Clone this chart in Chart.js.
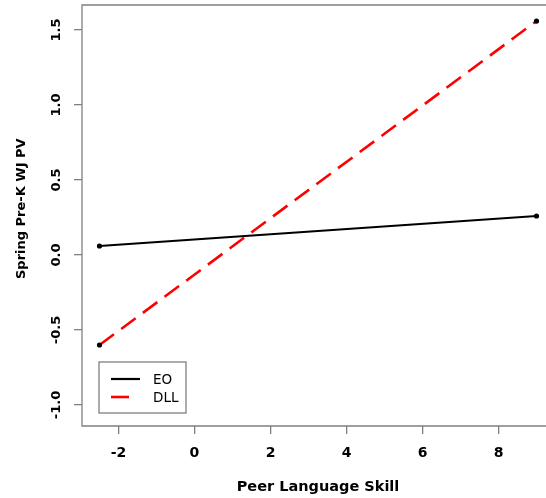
<!DOCTYPE html>
<html>
<head>
<meta charset="utf-8">
<script src="https://cdn.jsdelivr.net/npm/chart.js@4.4.0/dist/chart.umd.min.js"></script>
<style>
  html, body { margin: 0; padding: 0; overflow: hidden; background: #fff; }
  #wrap { width: 560px; height: 498px; }
</style>
</head>
<body>
<div id="wrap"><canvas id="chart" width="560" height="498"></canvas></div>
<script>
// values
const peerSkill = [-2.5, 9];
const eoValues = [0.06, 0.26];
const dllValues = [-0.6, 1.56];
const seriesNames = ['EO', 'DLL'];
const xTicks = [-2, 0, 2, 4, 6, 8];
const yTicks = [-1.0, -0.5, 0.0, 0.5, 1.0, 1.5];

function toPoints(ys) {
    return peerSkill.map(function(x, i) { return { x: x, y: ys[i] }; });
}

// box around the plot region (the right side falls outside the window)
const boxPlugin = {
    id: 'box',
    afterDraw: function(chart) {
        const a = chart.chartArea;
        const ctx = chart.ctx;
        ctx.save();
        ctx.strokeStyle = '#808080';
        ctx.lineWidth = 1.3;
        ctx.beginPath();
        ctx.moveTo(a.right, a.top);
        ctx.lineTo(a.left, a.top);
        ctx.lineTo(a.left, a.bottom);
        ctx.lineTo(a.right, a.bottom);
        ctx.stroke();
        ctx.restore();
    }
};

// legend box in the lower left corner
const legendPlugin = {
    id: 'rLegend',
    afterDraw: function(chart) {
        const ctx = chart.ctx;
        const a = chart.chartArea;
        const x0 = a.left + 17, y0 = a.bottom - 64;
        ctx.save();
        ctx.fillStyle = '#fff';
        ctx.fillRect(x0, y0, 87, 51);
        ctx.strokeStyle = '#808080';
        ctx.lineWidth = 1.3;
        ctx.strokeRect(x0, y0, 87, 51);
        ctx.font = '13.5px "DejaVu Sans"';
        ctx.textBaseline = 'middle';
        chart.data.datasets.forEach(function(ds, i) {
            const yy = y0 + 17 + i * 18;
            ctx.beginPath();
            ctx.strokeStyle = ds.borderColor;
            ctx.lineWidth = ds.borderWidth;
            ctx.setLineDash(ds.borderDash || []);
            ctx.moveTo(x0 + 12, yy);
            ctx.lineTo(x0 + (ds.borderDash ? 39 : 41), yy);
            ctx.stroke();
            ctx.setLineDash([]);
            ctx.fillStyle = '#000';
            ctx.fillText(ds.label, x0 + 54, yy + 1);
        });
        ctx.restore();
    }
};

const ctx = document.getElementById('chart').getContext('2d');
new Chart(ctx, {
    type: 'scatter',
    data: {
        datasets: [{
            label: seriesNames[0],
            data: toPoints(eoValues),
            showLine: true,
            borderColor: '#000',
            borderWidth: 2.2,
            pointRadius: 2.6,
            pointBorderWidth: 0,
            pointBackgroundColor: '#000',
            pointBorderColor: '#000'
        }, {
            label: seriesNames[1],
            data: toPoints(dllValues),
            showLine: true,
            borderColor: '#ff0000',
            borderWidth: 2.6,
            borderDash: [18, 9],
            pointRadius: 2.6,
            pointBorderWidth: 0,
            pointBackgroundColor: '#000',
            pointBorderColor: '#000'
        }]
    },
    options: {
        responsive: false,
        animation: false,
        layout: { padding: { top: 5, right: 6, left: 0, bottom: 0 } },
        plugins: { legend: { display: false }, tooltip: { enabled: false } },
        scales: {
            x: {
                type: 'linear',
                min: -2.96,
                max: 9.46,
                afterFit: function(s) {
                    s.height = 72;
                    s.paddingLeft = 0;
                    s.paddingRight = 0;
                },
                afterBuildTicks: function(s) { s.ticks = xTicks.map(function(v) { return { value: v }; }); },
                grid: { drawOnChartArea: false, tickLength: 8, color: '#808080', lineWidth: 1.3 },
                border: { display: false },
                ticks: {
                    color: '#000',
                    font: { family: 'DejaVu Sans', size: 14, weight: 'bold' },
                    padding: 11,
                    maxRotation: 0
                },
                title: {
                    display: true,
                    text: 'Peer Language Skill',
                    color: '#000',
                    font: { family: 'DejaVu Sans', size: 14.5, weight: 'bold' },
                    padding: { top: 0, bottom: 2 }
                }
            },
            y: {
                type: 'linear',
                min: -1.14,
                max: 1.667,
                afterFit: function(s) {
                    s.width = 82;
                    s.paddingTop = 0;
                    s.paddingBottom = 0;
                },
                afterBuildTicks: function(s) { s.ticks = yTicks.map(function(v) { return { value: v }; }); },
                grid: { drawOnChartArea: false, tickLength: 8, color: '#808080', lineWidth: 1.3 },
                border: { display: false },
                ticks: {
                    color: '#000',
                    font: { family: 'DejaVu Sans', size: 13, weight: 'bold' },
                    padding: 3,
                    minRotation: 90,
                    maxRotation: 90,
                    crossAlign: 'center',
                    callback: function(v) { return v.toFixed(1); }
                },
                title: {
                    display: true,
                    text: '\u00a0\u00a0\u00a0Spring Pre-K WJ PV',
                    color: '#000',
                    font: { family: 'DejaVu Sans', size: 13, weight: 'bold' },
                    padding: { top: 14, bottom: 0 }
                }
            }
        }
    },
    plugins: [boxPlugin, legendPlugin]
});
</script>
</body>
</html>
